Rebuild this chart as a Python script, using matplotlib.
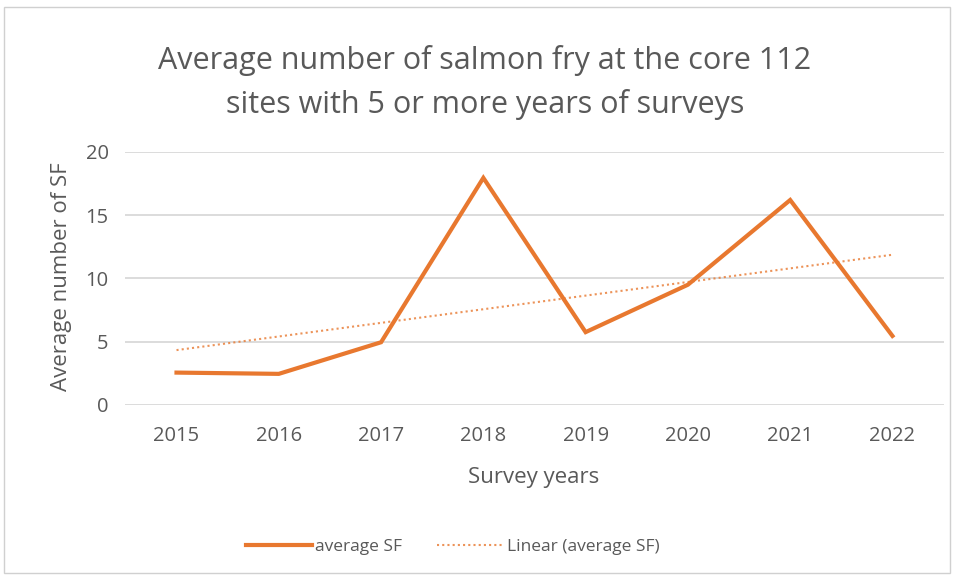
import numpy as np
import matplotlib.pyplot as plt
from matplotlib.patches import Rectangle

years = ["2015", "2016", "2017", "2018", "2019", "2020", "2021", "2022"]
avg_sf = [2.55, 2.45, 4.95, 17.95, 5.75, 9.5, 16.2, 5.45]

orange = "#E8782F"
grey = "#595959"

plt.rcParams['font.family'] = ['Open Sans', 'DejaVu Sans']

fig = plt.figure(figsize=(9.57, 5.8), dpi=100)
fig.patches.append(Rectangle((4 / 957, 1 - 573 / 580), 946 / 957, 566 / 580,
                             transform=fig.transFigure, fill=False,
                             edgecolor="#D0D0D0", linewidth=1))

ax = fig.add_axes([0.131, 0.302, 0.855, 0.436])
x = np.arange(len(years))
ax.plot(x, avg_sf, color=orange, linewidth=3.0, label="average SF",
        solid_joinstyle="miter")

# Linear trendline like Excel
slope, icpt = np.polyfit(x, avg_sf, 1)
ax.plot(x, slope * x + icpt, color=orange, linewidth=1.5, linestyle=(0, (1, 1.5)),
        alpha=0.8, label="Linear (average SF)")

ax.set_xlim(-0.5, len(years) - 0.5)
ax.set_ylim(0, 20)
ax.set_yticks([0, 5, 10, 15, 20])
ax.set_xticks(x)
ax.set_xticklabels(years)
ax.grid(axis="y", color="#D9D9D9", linewidth=1.3)
ax.set_axisbelow(True)
for s in ax.spines.values():
    s.set_visible(False)
ax.tick_params(length=0, colors=grey, labelsize=14.5)
ax.tick_params(axis="x", pad=15)
ax.tick_params(axis="y", pad=12)

fig.text(534 / 957, 1 - 478 / 580, "Survey years", ha="center", va="center",
         color=grey, fontsize=16)
fig.text(62 / 957, 1 - 277 / 580, "Average number of SF", ha="center",
         va="center", rotation=90, color=grey, fontsize=16)

fig.text(485 / 957, 1 - 61 / 580, "Average number of salmon fry at the core 112",
         ha="center", va="center", color=grey, fontsize=22)
fig.text(485 / 957, 1 - 104 / 580, "sites with 5 or more years of surveys",
         ha="center", va="center", color=grey, fontsize=22)

fig.legend(loc="center", bbox_to_anchor=(0.473, 1 - 547 / 580), ncol=2,
           frameon=False, fontsize=12.5, labelcolor=grey, handlelength=3.8,
           handletextpad=0.2, columnspacing=2.0)

fig.savefig("out.png", dpi=100)
